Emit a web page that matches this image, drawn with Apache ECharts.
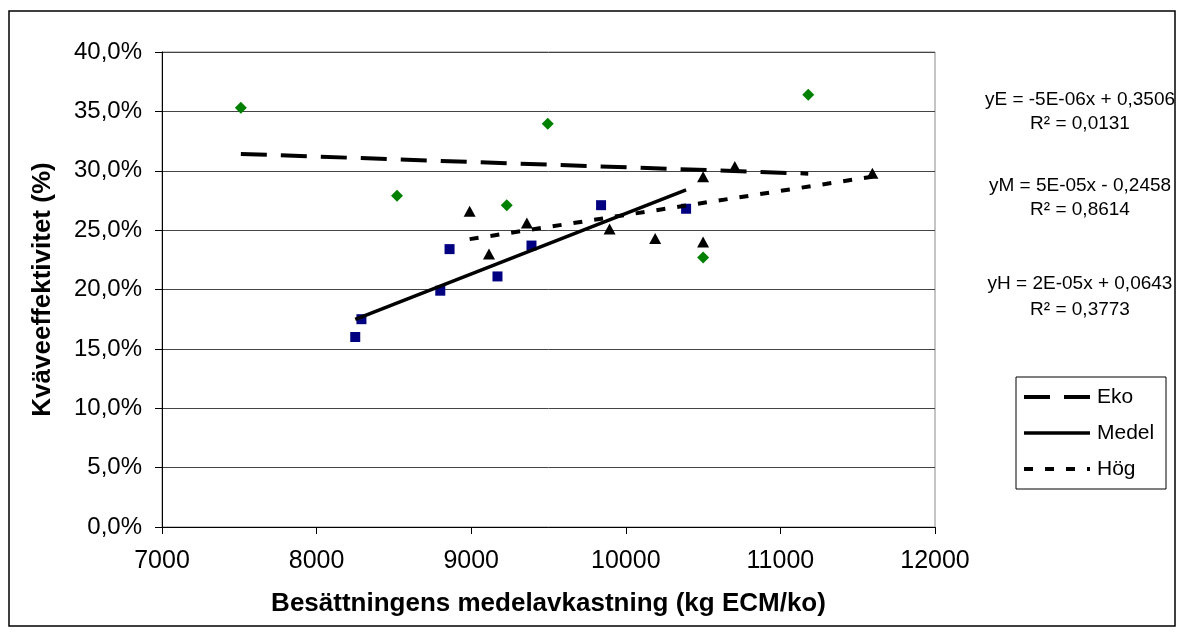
<!DOCTYPE html>
<html>
<head>
<meta charset="utf-8">
<script src="https://cdn.jsdelivr.net/npm/echarts@6/dist/echarts.min.js"></script>
<style>
  html, body { margin: 0; padding: 0; background: #fff; }
  #chart { width: 1184px; height: 632px; }
</style>
</head>
<body>
<div id="chart"></div>
<script>
// Eko (green diamonds)
const ekoX = [7510, 8520, 9230, 9495, 10500, 11180];
const ekoY = [0.353, 0.279, 0.271, 0.3395, 0.227, 0.364];

// Medel (blue squares)
const medelX = [8250, 8290, 8800, 8860, 9170, 9390, 9840, 10390];
const medelY = [0.160, 0.175, 0.199, 0.234, 0.211, 0.237, 0.271, 0.268];

// Hög (black triangles)
const hogX = [8990, 9115, 9360, 9895, 10190, 10500, 10500, 10705, 11595];
const hogY = [0.266, 0.230, 0.256, 0.251, 0.243, 0.295, 0.240, 0.3035, 0.298];

const seriesNames = ['Eko', 'Medel', 'Hög'];
const equations = [
    ['yE = -5E-06x + 0,3506', 'R² = 0,0131'],
    ['yM = 5E-05x - 0,2458', 'R² = 0,8614'],
    ['yH = 2E-05x + 0,0643', 'R² = 0,3773']
];

const FONT = "'Liberation Sans', Arial, sans-serif";
const lineStyles = {
    Eko: {width: 4, dash: [26, 14]},
    Medel: {width: 3.5, dash: null},
    'Hög': {width: 4, dash: [9, 12]}
};

function pairs(xs, ys) {
    return xs.map((x, i) => [x, ys[i]]);
}

// least squares line between smallest and largest x
function trend(xs, ys) {
    const n = xs.length;
    const mx = xs.reduce((a, b) => a + b, 0) / n;
    const my = ys.reduce((a, b) => a + b, 0) / n;
    let sxy = 0, sxx = 0;
    for (let i = 0; i < n; i++) {
        sxy += (xs[i] - mx) * (ys[i] - my);
        sxx += (xs[i] - mx) * (xs[i] - mx);
    }
    const k = sxy / sxx;
    const x0 = Math.min(...xs), x1 = Math.max(...xs);
    return [[x0, my + k * (x0 - mx)], [x1, my + k * (x1 - mx)]];
}

const chart = echarts.init(document.getElementById('chart'), null, {renderer: 'canvas'});

const graphics = [{
    type: 'rect', shape: {x: 9, y: 11, width: 1166, height: 615}, silent: true,
    style: {fill: 'none', stroke: '#000', lineWidth: 1.5}
}];

const eqY = [[100, 124], [186, 210], [284, 310]];
equations.forEach((e, i) => {
    e.forEach((t, j) => {
        graphics.push({
            type: 'text', x: 1080, y: eqY[i][j],
            style: {text: t, font: '19px ' + FONT, fill: '#000', align: 'center', verticalAlign: 'middle'}
        });
    });
});

// legend box
graphics.push({
    type: 'rect', shape: {x: 1016, y: 377, width: 150, height: 112}, silent: true,
    style: {fill: '#fff', stroke: '#000', lineWidth: 1}
});
seriesNames.forEach((name, i) => {
    const y = 397 + i * 36;
    const ls = lineStyles[name];
    graphics.push({
        type: 'line', shape: {x1: 1024, y1: y, x2: 1090, y2: y}, silent: true,
        style: {stroke: '#000', lineWidth: ls.width, lineDash: ls.dash}
    });
    graphics.push({
        type: 'text', x: 1097, y: y,
        style: {text: name, font: '21px ' + FONT, fill: '#000', align: 'left', verticalAlign: 'middle'}
    });
});

const option = {
    animation: false,
    backgroundColor: '#fff',
    textStyle: {fontFamily: FONT},
    grid: {left: 162, right: 249, top: 52, bottom: 105, show: true, borderColor: '#8a8a8a', borderWidth: 1},
    xAxis: {
        type: 'value', min: 7000, max: 12000, interval: 1000,
        name: 'Besättningens medelavkastning (kg ECM/ko)',
        nameLocation: 'middle', nameGap: 64,
        nameTextStyle: {fontFamily: FONT, fontSize: 26, fontWeight: 'bold', color: '#000'},
        axisLine: {lineStyle: {color: '#000', width: 1}},
        axisTick: {show: true, length: 7, lineStyle: {color: '#000'}},
        axisLabel: {fontFamily: FONT, fontSize: 25, color: '#000', margin: 22, formatter: v => String(v)},
        splitLine: {show: false}
    },
    yAxis: {
        type: 'value', min: 0, max: 0.4, interval: 0.05,
        name: 'Kväveeffektivitet (%)',
        nameLocation: 'middle', nameGap: 106, nameRotate: 90,
        nameTextStyle: {fontFamily: FONT, fontSize: 26, fontWeight: 'bold', color: '#000'},
        axisLine: {show: true, lineStyle: {color: '#000', width: 1}},
        axisTick: {show: true, length: 7, lineStyle: {color: '#000'}},
        axisLabel: {
            fontFamily: FONT, fontSize: 24, color: '#000', margin: 20,
            formatter: v => (v * 100).toFixed(1).replace('.', ',') + '%'
        },
        splitLine: {show: true, lineStyle: {color: '#444', width: 1}}
    },
    graphic: graphics,
    series: [
        {
            name: 'ekoPts', type: 'scatter', data: pairs(ekoX, ekoY),
            symbol: 'diamond', symbolSize: [12, 12], itemStyle: {color: '#008000', opacity: 1}
        },
        {
            name: 'medelPts', type: 'scatter', data: pairs(medelX, medelY),
            symbol: 'rect', symbolSize: [10, 10], itemStyle: {color: '#000080', opacity: 1}
        },
        {
            name: 'hogPts', type: 'scatter', data: pairs(hogX, hogY),
            symbol: 'triangle', symbolSize: [12, 11], itemStyle: {color: '#000', opacity: 1}
        }
    ].concat(seriesNames.map((name, i) => {
        const xs = [ekoX, medelX, hogX][i], ys = [ekoY, medelY, hogY][i];
        const ls = lineStyles[name];
        return {
            name: name, type: 'line', data: trend(xs, ys), symbol: 'none',
            lineStyle: {color: '#000', width: ls.width, type: ls.dash || 'solid'}
        };
    }))
};

chart.setOption(option);
</script>
</body>
</html>
